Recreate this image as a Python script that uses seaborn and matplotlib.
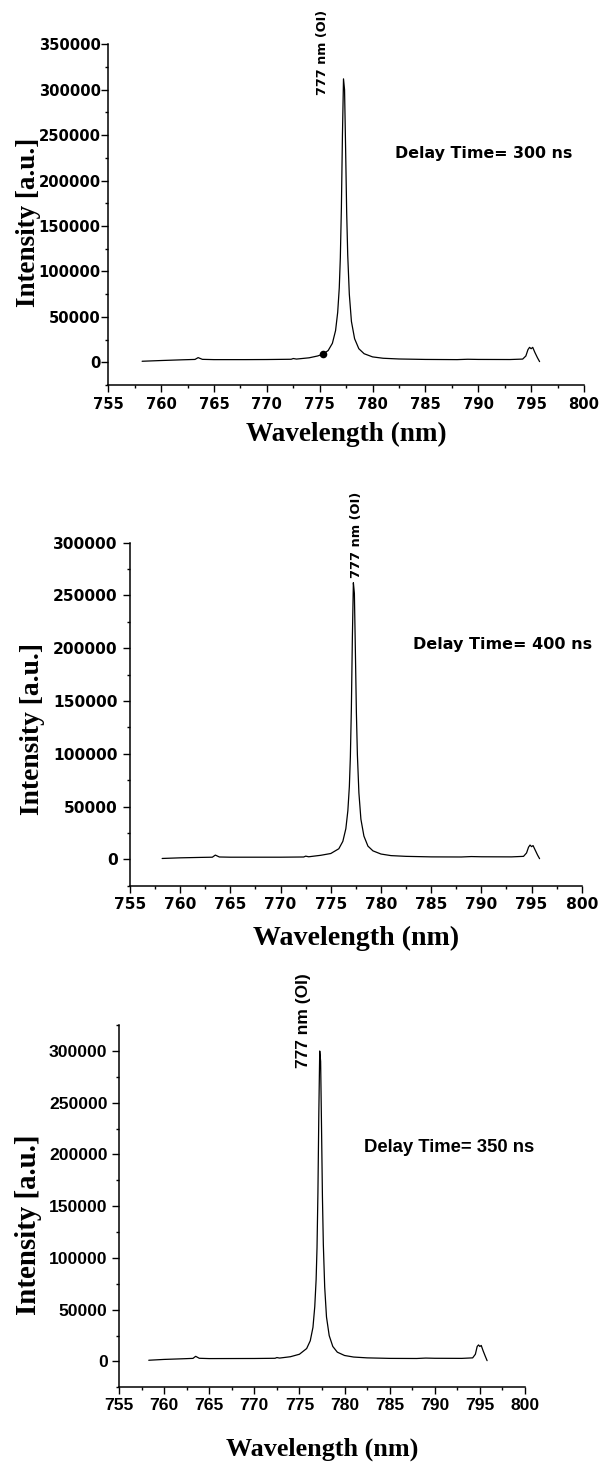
import numpy as np
import pandas as pd
import seaborn as sns
import matplotlib.pyplot as plt
from matplotlib.ticker import MultipleLocator

# spectra (wavelength in nm, intensity in a.u.)
wl_300 = [758.2, 760.0, 762.0, 763.2, 763.5, 763.9, 765.0, 768.0, 770.0, 772.3, 772.5, 772.8,
          774.0, 774.8, 775.3, 775.8, 776.2, 776.5, 776.7, 776.85, 776.95, 777.05, 777.15,
          777.25, 777.35, 777.45, 777.55, 777.65, 777.8, 778.0, 778.3, 778.7, 779.2, 780.0,
          781.0, 782.5, 785.0, 788.0, 789.0, 790.0, 793.0, 794.2, 794.5, 794.7, 794.85,
          795.0, 795.15, 795.35, 795.6, 795.8]
int_300 = [1200, 2000, 2800, 3200, 5200, 3300, 3000, 3000, 3100, 3400, 4200, 3600,
           5000, 7000, 9000, 13000, 21000, 35000, 55000, 82000, 115000, 170000, 250000,
           312000, 300000, 235000, 165000, 118000, 75000, 45000, 26000, 15000, 9500, 6000,
           4500, 3700, 3200, 3000, 3400, 3200, 3100, 3600, 7000, 14000, 16500,
           15000, 16500, 11000, 5000, 800]

wl_400 = [758.2, 760.0, 762.0, 763.2, 763.5, 763.9, 765.0, 770.0, 772.3, 772.5, 772.8,
          774.0, 775.0, 775.8, 776.2, 776.5, 776.7, 776.85, 776.95, 777.05, 777.15,
          777.25, 777.35, 777.45, 777.55, 777.65, 777.8, 778.0, 778.3, 778.7, 779.2, 780.0,
          781.0, 782.5, 785.0, 788.0, 789.0, 790.0, 793.0, 794.2, 794.5, 794.7, 794.85,
          795.0, 795.15, 795.35, 795.6, 795.8]
int_400 = [800, 1400, 1800, 2000, 4000, 2200, 2000, 2000, 2200, 3000, 2400,
           3800, 5500, 10000, 17000, 29000, 46000, 69000, 97000, 143000, 210000,
           262000, 252000, 197000, 139000, 99000, 63000, 38000, 22000, 12500, 8000, 5000,
           3500, 2800, 2300, 2200, 2600, 2400, 2300, 2800, 6000, 11500, 13500,
           12000, 13000, 9000, 4000, 600]

wl_350 = [758.3, 760.0, 762.0, 763.2, 763.5, 763.9, 765.0, 770.0, 772.3, 772.5, 772.8,
          774.0, 775.0, 775.8, 776.2, 776.5, 776.7, 776.85, 776.95, 777.05, 777.15,
          777.25, 777.35, 777.45, 777.55, 777.65, 777.8, 778.0, 778.3, 778.7, 779.2, 780.0,
          781.0, 782.5, 785.0, 788.0, 789.0, 790.0, 793.0, 794.2, 794.5, 794.7, 794.85,
          795.0, 795.15, 795.35, 795.6, 795.8]
int_350 = [1200, 2000, 2600, 3000, 5000, 3100, 2800, 2900, 3100, 3800, 3300,
           4600, 7000, 12500, 20000, 33000, 53000, 79000, 110000, 163000, 240000,
           300000, 290000, 226000, 159000, 113000, 72000, 43000, 25000, 14500, 9000, 5800,
           4300, 3500, 3000, 2900, 3300, 3100, 3000, 3500, 7000, 14500, 16000,
           14500, 15500, 10500, 5000, 800]

dot_wl = [775.3]
dot_int = [9000]

x_ticks = [755, 760, 765, 770, 775, 780, 785, 790, 795, 800]
y_ticks_300 = [0, 50000, 100000, 150000, 200000, 250000, 300000, 350000]
y_ticks_400 = [0, 50000, 100000, 150000, 200000, 250000, 300000]
y_ticks_350 = [0, 50000, 100000, 150000, 200000, 250000, 300000]

peak_text = "777 nm (OI)"
delay_texts = ["Delay Time= 300 ns", "Delay Time= 400 ns", "Delay Time= 350 ns"]
x_title = "Wavelength (nm)"
y_title = "Intensity [a.u.]"

sns.set_style("ticks")
plt.rcParams["font.family"] = ["DejaVu Sans"]
# seaborn greys the text; the original is plain black
for key in ("text.color", "axes.labelcolor", "xtick.color", "ytick.color", "axes.edgecolor"):
    plt.rcParams[key] = "black"

fig = plt.figure(figsize=(6.07, 14.63), dpi=100)

panels = [
    dict(rect=[0.1784, 0.7368, 0.7837, 0.2329], wl=wl_300, inten=int_300, yt=y_ticks_300,
         ymax=350000, font="DejaVu Sans", tick_fs=10.6, peak_fs=9.2, delay_fs=11.4,
         ylab_fs=19.5, xlab_fs=19.6, ylab_xy=(-0.167, 0.477), xlab_y=-0.144,
         peak_xy=(775.3, 293700), delay_xy=(782.1, 230000), ypad=0.6, xpad=4.0),
    dict(rect=[0.2142, 0.3946, 0.7442, 0.2345], wl=wl_400, inten=int_400, yt=y_ticks_400,
         ymax=300000, font="DejaVu Sans", tick_fs=11.2, peak_fs=9.4, delay_fs=11.5,
         ylab_fs=19.8, xlab_fs=20.2, ylab_xy=(-0.215, 0.457), xlab_y=-0.153,
         peak_xy=(777.55, 266400), delay_xy=(783.2, 203500), ypad=4.2, xpad=3.0),
    dict(rect=[0.1960, 0.0517, 0.6689, 0.2476], wl=wl_350, inten=int_350, yt=y_ticks_350,
         ymax=325000, font="Liberation Sans", tick_fs=12.6, peak_fs=12.5, delay_fs=13.3,
         ylab_fs=20.8, xlab_fs=18.8, ylab_xy=(-0.222, 0.448), xlab_y=-0.171,
         peak_xy=(775.5, 283700), delay_xy=(782.2, 206500), ypad=3.4, xpad=3.2),
]

for i, p in enumerate(panels):
    ax = fig.add_axes(p["rect"])
    df = pd.DataFrame({"wl": p["wl"], "inten": p["inten"]})
    sns.lineplot(data=df, x="wl", y="inten", color="black", linewidth=0.9,
                 estimator=None, sort=False, ax=ax)
    if i == 0:
        sns.scatterplot(x=dot_wl, y=dot_int, color="black", s=30, linewidth=0, ax=ax, zorder=3)

    ax.set_xlim(755, 800)
    ax.set_ylim(-25000, p["ymax"])
    tick_kw = dict(fontfamily=p["font"], fontsize=p["tick_fs"], fontweight="bold", color="black")
    ax.set_xticks(x_ticks, [str(t) for t in x_ticks], **tick_kw)
    ax.set_yticks(p["yt"], [str(t) for t in p["yt"]], **tick_kw)
    ax.xaxis.set_minor_locator(MultipleLocator(2.5))
    ax.yaxis.set_minor_locator(MultipleLocator(25000))
    ax.tick_params(which="major", direction="out", length=4.8, width=1.0, color="black")
    ax.tick_params(which="minor", direction="out", length=2.2, width=1.0, color="black")
    ax.tick_params(axis="y", which="major", pad=p["ypad"])
    ax.tick_params(axis="x", which="major", pad=p["xpad"])
    sns.despine(ax=ax)
    for side in ("left", "bottom"):
        ax.spines[side].set_linewidth(1.1)
        ax.spines[side].set_color("black")

    ax.set_xlabel(x_title, fontfamily="Liberation Serif", fontweight="bold",
                  fontsize=p["xlab_fs"], va="center", color="black")
    ax.xaxis.set_label_coords(0.5, p["xlab_y"])
    ax.set_ylabel(y_title, fontfamily="Liberation Serif", fontweight="bold",
                  fontsize=p["ylab_fs"], va="center", color="black")
    ax.yaxis.set_label_coords(*p["ylab_xy"])

    ax.text(p["peak_xy"][0], p["peak_xy"][1], peak_text, rotation=90, ha="center",
            va="bottom", fontfamily=p["font"], fontweight="bold", fontsize=p["peak_fs"],
            color="black")
    ax.text(p["delay_xy"][0], p["delay_xy"][1], delay_texts[i], ha="left", va="center",
            fontfamily=p["font"], fontweight="bold", fontsize=p["delay_fs"], color="black")

fig.savefig("out.png", dpi=100, facecolor="white")
